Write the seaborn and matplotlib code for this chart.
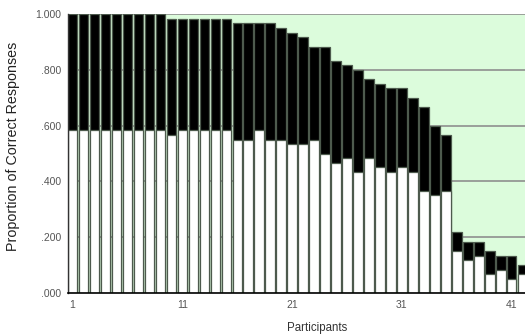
import numpy as np
import matplotlib
matplotlib.use("Agg")
import matplotlib.pyplot as plt
import pandas as pd
import seaborn as sns

# proportion correct per participant
participants = [str(i) for i in range(1, 43)]
total_prop = [1.000] * 9 + [0.983] * 6 + [0.967] * 4 + [
    0.950, 0.933, 0.917, 0.883, 0.883, 0.833, 0.817, 0.800, 0.767, 0.750,
    0.733, 0.733, 0.700, 0.667, 0.600, 0.567, 0.217, 0.183, 0.183, 0.150,
    0.133, 0.133, 0.100]
lower_prop = [0.583] * 9 + [0.567] + [0.583] * 5 + [
    0.550, 0.550, 0.583, 0.550, 0.550, 0.533, 0.533, 0.550, 0.500, 0.467,
    0.483, 0.433, 0.483, 0.450, 0.433, 0.450, 0.433, 0.367, 0.350, 0.367,
    0.150, 0.117, 0.133, 0.067, 0.083, 0.050, 0.067]
xtick_labels = ["1", "11", "21", "31", "41"]
ytick_vals = [0.0, 0.2, 0.4, 0.6, 0.8, 1.0]

df = pd.DataFrame({"participant": participants,
                   "total": total_prop,
                   "lower": lower_prop})

sns.set_style("white")
plt.rcParams["font.family"] = ["Liberation Sans", "DejaVu Sans"]

fig = plt.figure(figsize=(5.25, 3.35), dpi=100)
ax = fig.add_axes([68 / 525, 1 - 293 / 335, 1 - 68 / 525, (293 - 14) / 335])
ax.set_facecolor("#dcfcdc")

edge = "#4d5a4d"
sns.barplot(data=df, x="participant", y="total", order=participants,
            color="black", edgecolor=edge, linewidth=0.9, width=0.85,
            saturation=1, ax=ax)
sns.barplot(data=df, x="participant", y="lower", order=participants,
            color="white", edgecolor=edge, linewidth=0.9, width=0.85,
            saturation=1, ax=ax)

ax.set_xlim(-0.4, 41.2)
ax.set_ylim(0, 1.0)
ax.set_axisbelow(True)
for v in ytick_vals[1:]:
    ax.axhline(v, color="#8f8f8f", lw=1.2, zorder=0)

ax.set_yticks(ytick_vals)
ax.set_yticklabels([("%.3f" % v).lstrip("0") if v < 1 else "1.000" for v in ytick_vals],
                   fontsize=7.5, color="#555555")
ax.set_xticks([participants.index(t) for t in xtick_labels])
ax.set_xticklabels(xtick_labels, fontsize=7.5, color="#555555")
ax.tick_params(length=0, pad=5)

for s in ["top", "right"]:
    ax.spines[s].set_visible(False)
ax.spines["left"].set_color("#333333")
ax.spines["left"].set_linewidth(1.0)
ax.spines["bottom"].set_color("black")
ax.spines["bottom"].set_linewidth(1.2)

ax.set_xlabel("Participants", fontsize=8.3, color="#333333")
ax.xaxis.set_label_coords(0.545, -0.105)
ax.set_ylabel("Proportion of Correct Responses", fontsize=10.3, color="#222222")
ax.yaxis.set_label_coords(-0.104, 0.527)

fig.savefig("out.png", dpi=100)
